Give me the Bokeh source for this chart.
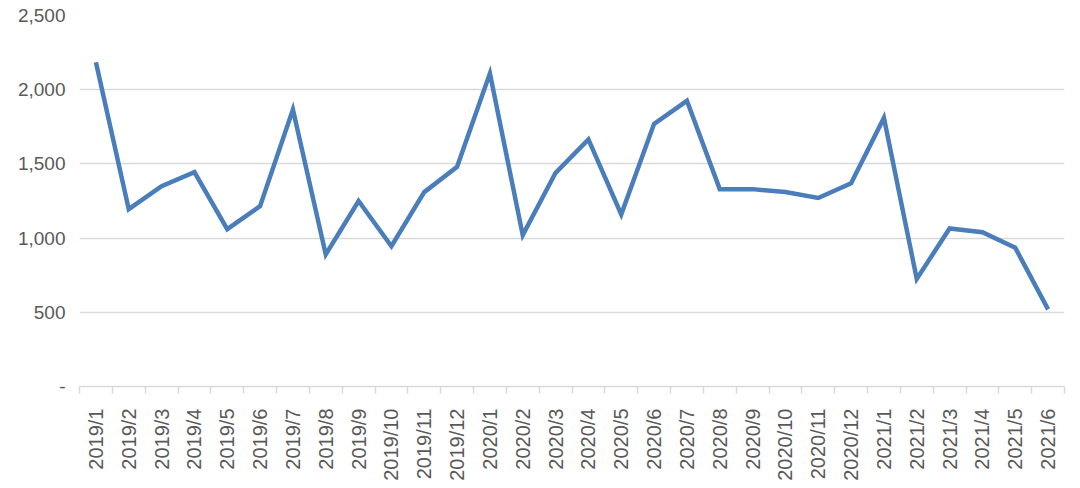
import math
from bokeh.plotting import figure
from bokeh.models import Range1d, FixedTicker, NumeralTickFormatter, ColumnDataSource
from bokeh.embed import file_html
from bokeh.resources import INLINE

months = ["2019/1", "2019/2", "2019/3", "2019/4", "2019/5", "2019/6", "2019/7", "2019/8",
          "2019/9", "2019/10", "2019/11", "2019/12", "2020/1", "2020/2", "2020/3", "2020/4",
          "2020/5", "2020/6", "2020/7", "2020/8", "2020/9", "2020/10", "2020/11", "2020/12",
          "2021/1", "2021/2", "2021/3", "2021/4", "2021/5", "2021/6"]
values = [2185, 1195, 1350, 1445, 1060, 1215, 1866, 890, 1250, 945, 1310, 1480,
          2110, 1020, 1440, 1665, 1160, 1770, 1925, 1330, 1330, 1310, 1270, 1370,
          1810, 725, 1065, 1040, 935, 520]
y_ticks = [0, 500, 1000, 1500, 2000, 2500]

n = len(months)
centers = [i + 0.5 for i in range(n)]
bounds = list(range(n + 1))

src = ColumnDataSource(dict(x=centers, y=values, m=months))

p = figure(frame_width=985, frame_height=371, output_backend="svg", toolbar_location=None,
           x_range=Range1d(0, n), y_range=Range1d(0, 2500),
           min_border_left=79, min_border_right=8, min_border_top=15, min_border_bottom=5)
p.outline_line_color = None
p.background_fill_color = "white"

p.line("x", "y", source=src, line_color="#4a7ebb", line_width=4.5, line_join="miter")

font = "Liberation Sans"
grey = "#595959"

# x axis
p.xaxis.ticker = FixedTicker(ticks=centers, minor_ticks=bounds)
p.xaxis.major_label_overrides = {c: m for c, m in zip(centers, months)}
p.xaxis.major_label_orientation = math.pi / 2
p.xaxis.major_tick_line_color = None
p.xaxis.major_tick_in = 0
p.xaxis.major_tick_out = 0
p.xaxis.minor_tick_line_color = "#d9d9d9"
p.xaxis.minor_tick_line_width = 1.5
p.xaxis.minor_tick_in = 0
p.xaxis.minor_tick_out = 7
p.xaxis.axis_line_color = "#d9d9d9"
p.xaxis.axis_line_width = 1.5
p.xaxis.major_label_text_font = font
p.xaxis.major_label_text_font_size = "20px"
p.xaxis.major_label_text_color = grey
p.xaxis.major_label_standoff = 15

# y axis
p.yaxis.ticker = FixedTicker(ticks=y_ticks)
p.yaxis.formatter = NumeralTickFormatter(format="0,0")
p.yaxis.major_label_overrides = {0: "-"}
p.yaxis.axis_line_color = None
p.yaxis.major_tick_line_color = None
p.yaxis.major_tick_in = 0
p.yaxis.major_tick_out = 0
p.yaxis.minor_tick_line_color = None
p.yaxis.major_label_text_font = font
p.yaxis.major_label_text_font_size = "19px"
p.yaxis.major_label_text_color = grey
p.yaxis.major_label_standoff = 14

p.xgrid.grid_line_color = None
p.ygrid.grid_line_color = "#d9d9d9"
p.ygrid.grid_line_width = 1.5

open("out.html", "w").write(file_html(p, INLINE))
